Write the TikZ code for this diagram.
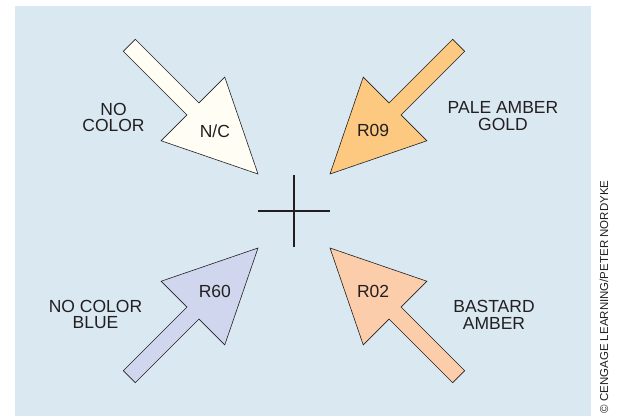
\documentclass[tikz,border=0pt]{standalone}
\usepackage{fontspec}
\setmainfont{Liberation Sans}
\usepackage{xcolor}
\usepackage{tikz}
\definecolor{gelbg}{RGB}{217,232,241}
\definecolor{gelnocolor}{RGB}{255,253,244}
\definecolor{gelpaleamber}{RGB}{253,201,128}
\definecolor{gelnoblue}{RGB}{208,214,237}
\definecolor{gelbastard}{RGB}{252,205,170}
\definecolor{inkgray}{RGB}{35,31,32}
\usetikzlibrary{positioning,calc}

\begin{document}
\begin{tikzpicture}[
    x=1pt, y=1pt,
    gelarrow/.style={draw=inkgray, line width=0.6pt, line join=miter},
    gelcode/.style={text=inkgray, font=\fontsize{17.5}{17}\selectfont},
    gelname/.style={text=inkgray, align=center, font=\fontsize{17.5}{16.5}\selectfont},
    crosshair/.style={draw=inkgray, line width=1.8pt}
]
\useasboundingbox (0,0) rectangle (620,416);
\fill[gelbg] (15,0) rectangle (591,410);

% center mark
\coordinate (ctr) at (294,205);
\draw[crosshair] ([yshift=36]ctr) -- ([yshift=-36]ctr);
\draw[crosshair] ([xshift=-36]ctr) -- ([xshift=36]ctr);

% N/C
\begin{scope}[shift={(258,242)}, rotate=-45]
    \draw[gelarrow, fill=gelnocolor] (0,0) -- (-92,45) -- (-92,8.5) -- (-182,8.5) -- (-182,-8.5) -- (-92,-8.5) -- (-92,-45) -- cycle;
    \node[gelcode] (nc) at (-61,0) {N/C};
\end{scope}

% R09
\begin{scope}[shift={(330,242)}, rotate=-135]
    \draw[gelarrow, fill=gelpaleamber] (0,0) -- (-92,45) -- (-92,8.5) -- (-182,8.5) -- (-182,-8.5) -- (-92,-8.5) -- (-92,-45) -- cycle;
    \node[gelcode] (r09) at (-61,0) {R09};
\end{scope}

% R60
\begin{scope}[shift={(258,168)}, rotate=45]
    \draw[gelarrow, fill=gelnoblue] (0,0) -- (-92,45) -- (-92,8.5) -- (-182,8.5) -- (-182,-8.5) -- (-92,-8.5) -- (-92,-45) -- cycle;
    \node[gelcode] (r60) at (-61,0) {R60};
\end{scope}

% R02
\begin{scope}[shift={(330,168)}, rotate=135]
    \draw[gelarrow, fill=gelbastard] (0,0) -- (-92,45) -- (-92,8.5) -- (-182,8.5) -- (-182,-8.5) -- (-92,-8.5) -- (-92,-45) -- cycle;
    \node[gelcode] (r02) at (-61,0) {R02};
\end{scope}

% gel names
\node[gelname] (nocolor) at (113.5,298.5) {NO\\COLOR};
\node[gelname] (paleamber) at (503,300) {PALE AMBER\\GOLD};
\node[gelname] (noblue) at (95.5,101.3) {NO COLOR\\BLUE};
\node[gelname] (bastard) at (494,101.3) {BASTARD\\AMBER};

\node[rotate=90, text=inkgray, font=\fontsize{11.5}{12}\selectfont] (credit) at (604,119) {© CENGAGE LEARNING/PETER NORDYKE};

\end{tikzpicture}
\end{document}
